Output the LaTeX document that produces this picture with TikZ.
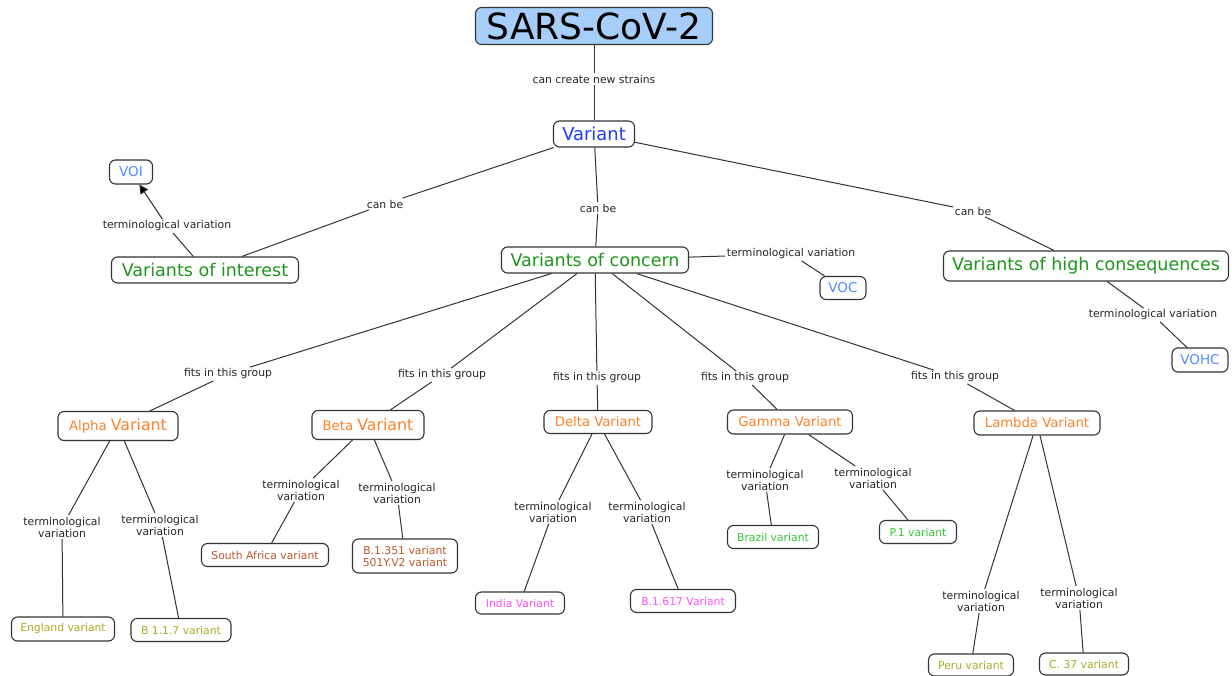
\documentclass[tikz,border=0pt]{standalone}
\usepackage{fontspec}
\setmainfont{DejaVu Sans}
\usetikzlibrary{arrows.meta}
\definecolor{sarsblue}{RGB}{166,206,248}
\definecolor{varblue}{RGB}{30,60,255}
\definecolor{abbrblue}{RGB}{80,140,255}
\definecolor{groupgreen}{RGB}{30,150,30}
\definecolor{strainorange}{RGB}{255,128,40}
\definecolor{leafolive}{RGB}{170,170,40}
\definecolor{leafbrown}{RGB}{190,85,45}
\definecolor{leafpink}{RGB}{255,80,255}
\definecolor{leafgreen}{RGB}{50,200,50}
\begin{document}
\begin{tikzpicture}[x=1pt,y=-1pt,
  concept/.style={draw=black!80,line width=1.1pt,rounded corners=6pt,fill=white,inner sep=2pt,align=center},
  linkword/.style={font=\fontsize{10.8}{12}\selectfont,inner sep=1.5pt,align=center,text=black!85},
  connector/.style={draw=black!80,line width=1pt},
  leaf/.style={concept,font=\fontsize{10.8}{12}\selectfont},
  strain/.style={concept,text=strainorange,font=\fontsize{13.2}{15}\selectfont},
  group/.style={concept,text=groupgreen,font=\fontsize{17.5}{19}\selectfont},
  abbr/.style={concept,text=abbrblue,font=\fontsize{13.5}{15}\selectfont}]
  \fill[white] (0,0) rectangle (1232,675);
  \useasboundingbox (0,0) rectangle (1232,675);
  % concepts
  \node[concept,fill=sarsblue,font=\fontsize{36}{38}\selectfont,minimum width=237pt,minimum height=37pt] (sars) at (594,26) {SARS-CoV-2};
  \node[concept,text=varblue,font=\fontsize{17.9}{19}\selectfont,minimum width=81pt,minimum height=26pt] (variant) at (594,134) {Variant};
  \node[group,minimum width=187pt,minimum height=26pt] (interest) at (205,270) {Variants of interest};
  \node[group,minimum width=187pt,minimum height=26pt] (concern) at (595,260) {Variants of concern};
  \node[group,minimum width=285pt,minimum height=30pt] (high) at (1086,266) {Variants of high consequences};
  \node[abbr,minimum width=43pt,minimum height=24pt] (voi) at (131,172) {VOI};
  \node[abbr,minimum width=46pt,minimum height=23pt] (voc) at (843,288) {VOC};
  \node[abbr,minimum width=56pt,minimum height=24pt] (vohc) at (1200,360) {VOHC};
  \node[strain,minimum width=120pt,minimum height=29pt] (alpha) at (118,426) {Alpha {\fontsize{15.8}{17}\selectfont Variant}};
  \node[strain,minimum width=112pt,minimum height=29pt] (beta) at (368,425) {Beta {\fontsize{15.8}{17}\selectfont Variant}};
  \node[strain,minimum width=108pt,minimum height=23pt] (delta) at (598,422) {Delta Variant};
  \node[strain,minimum width=125pt,minimum height=24pt] (gamma) at (790,422) {Gamma Variant};
  \node[strain,minimum width=126pt,minimum height=24pt] (lambda) at (1037,423) {Lambda Variant};
  \node[leaf,text=leafolive,minimum width=103pt,minimum height=24pt] (england) at (63,629) {England variant};
  \node[leaf,text=leafolive,minimum width=100pt,minimum height=23pt] (bone) at (181,630) {B 1.1.7 variant};
  \node[leaf,text=leafbrown,minimum width=127pt,minimum height=23pt] (safrica) at (265,555) {South Africa variant};
  \node[leaf,text=leafbrown,minimum width=105pt,minimum height=34pt] (bthree) at (405,556) {B.1.351 variant\\501Y.V2 variant};
  \node[leaf,text=leafpink,minimum width=89pt,minimum height=22pt] (india) at (520,603) {India Variant};
  \node[leaf,text=leafpink,minimum width=105pt,minimum height=23pt] (bsix) at (683,601) {B.1.617 Variant};
  \node[leaf,text=leafgreen,minimum width=91pt,minimum height=23pt] (brazil) at (773,537) {Brazil variant};
  \node[leaf,text=leafgreen,minimum width=77pt,minimum height=23pt] (pone) at (918,532) {P.1 variant};
  \node[leaf,text=leafolive,minimum width=85pt,minimum height=22pt] (peru) at (971,665) {Peru variant};
  \node[leaf,text=leafolive,minimum width=89pt,minimum height=22pt] (cthree) at (1084,664) {C. 37 variant};
  % linking words
  \node[linkword] (create) at (594,79) {can create new strains};
  \node[linkword] (canbeA) at (385,204) {can be};
  \node[linkword] (canbeB) at (598,208) {can be};
  \node[linkword] (canbeC) at (973,211) {can be};
  \node[linkword] (termI) at (167,226) {terminological variation};
  \node[linkword] (termC) at (791,254) {terminological variation};
  \node[linkword] (termH) at (1153,315) {terminological variation};
  \node[linkword] (fitsA) at (228,374) {fits in this group};
  \node[linkword] (fitsB) at (442,375) {fits in this group};
  \node[linkword] (fitsD) at (597,378) {fits in this group};
  \node[linkword] (fitsG) at (745,378) {fits in this group};
  \node[linkword] (fitsL) at (955,377) {fits in this group};
  \node[linkword] (termAa) at (62,527) {terminological\\variation};
  \node[linkword] (termAb) at (160,525) {terminological\\variation};
  \node[linkword] (termBa) at (301,490) {terminological\\variation};
  \node[linkword] (termBb) at (397,493) {terminological\\variation};
  \node[linkword] (termDa) at (553,512) {terminological\\variation};
  \node[linkword] (termDb) at (647,512) {terminological\\variation};
  \node[linkword] (termGa) at (765,480) {terminological\\variation};
  \node[linkword] (termGb) at (873,478) {terminological\\variation};
  \node[linkword] (termLa) at (981,601) {terminological\\variation};
  \node[linkword] (termLb) at (1079,598) {terminological\\variation};
  % connectors
  \draw[connector] (sars) -- (create) -- (variant);
  \draw[connector] (variant) -- (canbeA) -- (interest);
  \draw[connector] (variant) -- (canbeB) -- (concern);
  \draw[connector] (variant) -- (canbeC) -- (high);
  \draw[connector] (interest) -- (termI);
  \draw[connector,-{Triangle[length=9pt,width=9pt,fill=black]}] (termI) -- (voi);
  \draw[connector] (concern) -- (termC) -- (voc);
  \draw[connector] (high) -- (termH) -- (vohc);
  \foreach \strainnode/\fitsnode in {alpha/fitsA,beta/fitsB,delta/fitsD,gamma/fitsG,lambda/fitsL}{
    \draw[connector] (concern) -- (\fitsnode) -- (\strainnode);
  }
  \foreach \fromnode/\termnode/\tonode in {alpha/termAa/england,alpha/termAb/bone,
      beta/termBa/safrica,beta/termBb/bthree,delta/termDa/india,delta/termDb/bsix,
      gamma/termGa/brazil,gamma/termGb/pone,lambda/termLa/peru,lambda/termLb/cthree}{
    \draw[connector] (\fromnode) -- (\termnode) -- (\tonode);
  }
\end{tikzpicture}
\end{document}
